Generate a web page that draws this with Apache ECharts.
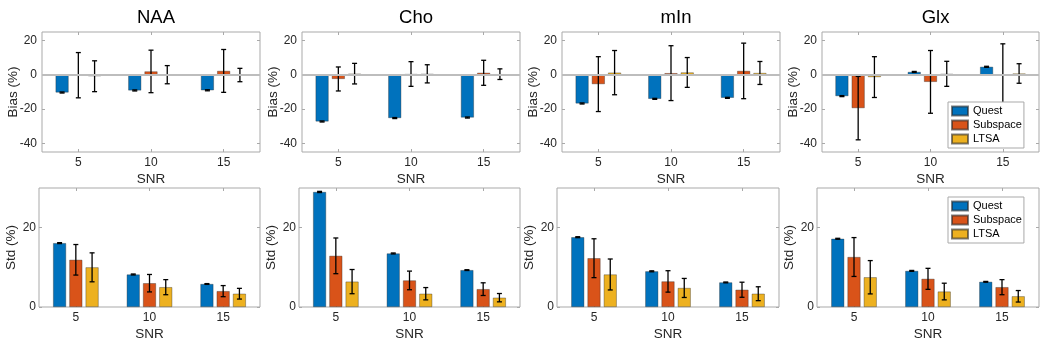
<!DOCTYPE html>
<html>
<head>
<meta charset="utf-8">
<script src="https://cdn.jsdelivr.net/npm/echarts@6/dist/echarts.min.js"></script>
<style>
html, body { margin: 0; background: #fff; }
#main { width: 1050px; height: 348px; }
</style>
</head>
<body>
<div id="main"></div>
<script>
const snrLabels = ['5', '10', '15'];
const metabolites = ['NAA', 'Cho', 'mIn', 'Glx'];
const methods = ['Quest', 'Subspace', 'LTSA'];
const methodColors = ['#0072BD', '#D95319', '#EDB120'];
const biasTicks = [-40, -20, 0, 20];
const stdTicks = [0, 20];

// bias (%) : one row per metabolite (NAA, Cho, mIn, Glx), values at SNR 5 / 10 / 15
const biasQuest = [[-10.3, -9.1, -9.0], [-27.2, -25.2, -24.9], [-16.7, -14.0, -13.4], [-12.4, 1.7, 4.7]];
const biasQuestErr = [[0.3, 0.3, 0.3], [0.3, 0.3, 0.3], [0.3, 0.3, 0.3], [0.3, 0.3, 0.3]];
const biasSubspace = [[-0.2, 2.0, 2.3], [-2.4, 0.5, 1.2], [-5.4, 1.0, 2.3], [-19.4, -4.1, -0.4]];
const biasSubspaceErr = [[13.2, 12.4, 12.5], [7.0, 7.2, 7.3], [16.0, 16.0, 16.2], [18.5, 18.3, 18.5]];
const biasLTSA = [[-0.8, 0.1, -0.1], [0.7, 0.6, 0.4], [1.3, 1.4, 1.1], [-1.3, 0.6, 0.8]];
const biasLTSAErr = [[9.0, 5.3, 3.9], [6.0, 5.3, 3.1], [12.9, 8.7, 6.7], [11.9, 7.3, 5.7]];

// std (%)
const stdQuest = [[16.1, 8.2, 5.8], [29.0, 13.5, 9.3], [17.6, 9.0, 6.2], [17.2, 9.1, 6.35]];
const stdQuestErr = [[0.12, 0.12, 0.1], [0.15, 0.12, 0.1], [0.12, 0.12, 0.1], [0.12, 0.12, 0.1]];
const stdSubspace = [[11.9, 6.0, 4.0], [12.9, 6.7, 4.5], [12.3, 6.45, 4.35], [12.6, 7.1, 5.0]];
const stdSubspaceErr = [[3.85, 2.2, 1.4], [4.5, 2.35, 1.6], [4.9, 2.7, 1.9], [4.9, 2.65, 1.9]];
const stdLTSA = [[10.0, 5.0, 3.35], [6.4, 3.35, 2.35], [8.2, 4.8, 3.35], [7.5, 3.9, 2.7]];
const stdLTSAErr = [[3.65, 1.9, 1.35], [3.05, 1.55, 1.05], [3.9, 2.4, 1.75], [4.2, 2.1, 1.45]];

const biasData = [biasQuest, biasSubspace, biasLTSA];
const biasErr = [biasQuestErr, biasSubspaceErr, biasLTSAErr];
const stdData = [stdQuest, stdSubspace, stdLTSA];
const stdErr = [stdQuestErr, stdSubspaceErr, stdLTSAErr];

// plot boxes [left, width]
const topBoxes = [[42, 218], [302, 218], [562, 218], [822, 217]];
const bottomBoxes = [[39, 221], [299, 221], [557, 222], [817, 222]];

const BAR_W = 13;
const BAR_STEP = 16.25; // bar width + gap
const axisGray = '#a9a9a9';
const labelColor = '#262626';

function renderErr(params, api) {
  const j = api.value(0), v = api.value(1), e = api.value(2), k = api.value(3);
  const off = (k - 1) * BAR_STEP;
  const hi = api.coord([j, v + e]);
  const lo = api.coord([j, v - e]);
  const x = hi[0] + off;
  const style = { stroke: '#000', lineWidth: 1.3 };
  return {
    type: 'group',
    children: [
      { type: 'line', shape: { x1: x, y1: hi[1], x2: x, y2: lo[1] }, style: style },
      { type: 'line', shape: { x1: x - 2.5, y1: hi[1], x2: x + 2.5, y2: hi[1] }, style: style },
      { type: 'line', shape: { x1: x - 2.5, y1: lo[1], x2: x + 2.5, y2: lo[1] }, style: style }
    ]
  };
}

const grid = [], xAxis = [], yAxis = [], series = [], title = [];

for (let p = 0; p < 8; p++) {
  const row = p < 4 ? 0 : 1;
  const m = p % 4;
  const box = row === 0 ? topBoxes[m] : bottomBoxes[m];
  grid.push({
    left: box[0], width: box[1],
    top: row === 0 ? 32 : 188, height: row === 0 ? 120 : 119,
    show: true, borderColor: axisGray, borderWidth: 1, backgroundColor: '#fff'
  });
  if (row === 0) {
    title.push({
      text: metabolites[m], left: box[0] + box[1] / 2, top: 3, textAlign: 'center',
      textStyle: { fontSize: 18.5, fontWeight: 'normal', color: '#000', fontFamily: 'Liberation Sans' }
    });
  }
}

// bottom (labelled) axes 0..7
for (let p = 0; p < 8; p++) {
  const row = p < 4 ? 0 : 1;
  xAxis.push({
    type: 'category', gridIndex: p, data: snrLabels, position: 'bottom',
    name: 'SNR', nameLocation: 'middle', nameGap: 20, nameMoveOverlap: false,
    nameTextStyle: { fontSize: 13.5, color: labelColor },
    axisLine: { show: false, onZero: false },
    axisTick: { show: true, inside: true, alignWithLabel: true, length: 3, lineStyle: { color: axisGray } },
    axisLabel: { fontSize: 12, color: labelColor, margin: 5 },
    splitLine: { show: false }
  });
  yAxis.push({
    type: 'value', gridIndex: p,
    min: row === 0 ? -45 : 0, max: row === 0 ? 25 : 30,
    name: row === 0 ? 'Bias (%)' : 'Std (%)', nameLocation: 'middle',
    nameGap: row === 0 ? 22 : 21, nameMoveOverlap: false,
    nameTextStyle: { fontSize: 13.5, color: labelColor },
    axisLine: { show: false },
    axisTick: { show: true, inside: true, length: 3, customValues: row === 0 ? biasTicks : stdTicks, lineStyle: { color: axisGray } },
    axisLabel: { fontSize: 12, color: labelColor, margin: row === 0 ? 5 : 3, customValues: row === 0 ? biasTicks : stdTicks },
    splitLine: { show: false }
  });
}
// mirror ticks on top / right (box style)
for (let p = 0; p < 8; p++) {
  const row = p < 4 ? 0 : 1;
  xAxis.push({
    type: 'category', gridIndex: p, data: snrLabels, position: 'top',
    axisLine: { show: false, onZero: false },
    axisTick: { show: true, inside: true, alignWithLabel: true, length: 3, lineStyle: { color: axisGray } },
    axisLabel: { show: false }, splitLine: { show: false }
  });
  yAxis.push({
    type: 'value', gridIndex: p, position: 'right',
    min: row === 0 ? -45 : 0, max: row === 0 ? 25 : 30,
    axisLine: { show: false },
    axisTick: { show: true, inside: true, length: 3, customValues: row === 0 ? biasTicks : stdTicks, lineStyle: { color: axisGray } },
    axisLabel: { show: false, customValues: row === 0 ? biasTicks : stdTicks },
    splitLine: { show: false }
  });
}

for (let p = 0; p < 8; p++) {
  const row = p < 4 ? 0 : 1;
  const m = p % 4;
  const vals = row === 0 ? biasData : stdData;
  const errs = row === 0 ? biasErr : stdErr;
  const errPoints = [];
  for (let k = 0; k < 3; k++) {
    const s = {
      type: 'bar', name: methods[k], xAxisIndex: p, yAxisIndex: p,
      data: vals[k][m], barWidth: BAR_W, barGap: '25%',
      itemStyle: { color: methodColors[k], borderColor: 'rgba(40,40,40,0.6)', borderWidth: 0.6 }
    };
    if (row === 0 && k === 0) {
      s.markLine = {
        silent: true, symbol: 'none', label: { show: false },
        lineStyle: { color: '#bdbdbd', width: 2, type: 'solid' },
        data: [{ yAxis: 0 }]
      };
    }
    series.push(s);
    for (let j = 0; j < 3; j++) errPoints.push([j, vals[k][m][j], errs[k][m][j], k]);
  }
  series.push({
    type: 'custom', xAxisIndex: p, yAxisIndex: p, renderItem: renderErr,
    encode: { x: 0, y: 1 }, data: errPoints, z: 3
  });
}

const legendBase = {
  data: methods, orient: 'vertical', left: 948, icon: 'rect',
  itemWidth: 16, itemHeight: 9, itemGap: 2,
  padding: [3, 2, 3, 3], backgroundColor: '#fff',
  borderColor: axisGray, borderWidth: 1, borderRadius: 0,
  textStyle: { fontSize: 11, color: '#000', lineHeight: 12 }
};

const option = {
  animation: false,
  textStyle: { fontFamily: 'Liberation Sans' },
  title: title,
  grid: grid,
  xAxis: xAxis,
  yAxis: yAxis,
  legend: [
    Object.assign({}, legendBase, { top: 102 }),
    Object.assign({}, legendBase, { top: 197 })
  ],
  series: series
};

const myChart = echarts.init(document.getElementById('main'));
myChart.setOption(option);
</script>
</body>
</html>
